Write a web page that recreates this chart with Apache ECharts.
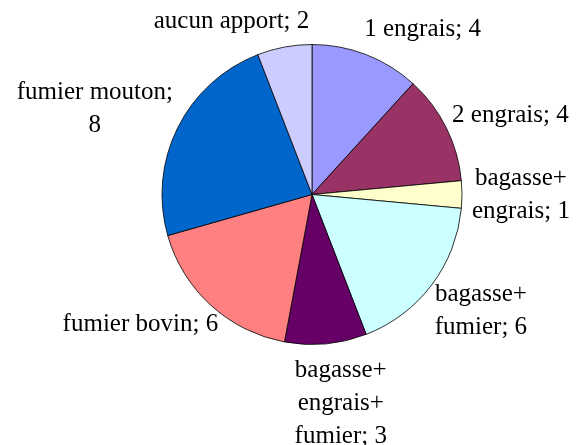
<!DOCTYPE html>
<html>
<head>
<meta charset="utf-8">
<script src="https://cdn.jsdelivr.net/npm/echarts@6/dist/echarts.min.js"></script>
<style>
html, body { margin: 0; padding: 0; background: #fff; }
#chart { width: 578px; height: 445px; }
</style>
</head>
<body>
<div id="chart"></div>
<script>
// données du camembert (ordre horaire depuis le haut)
var categories = ['1 engrais', '2 engrais', 'bagasse+\nengrais', 'bagasse+\nfumier',
                  'bagasse+\nengrais+\nfumier', 'fumier bovin', 'fumier mouton', 'aucun apport'];
var values = [4, 4, 1, 6, 3, 6, 8, 2];
var colors = ['#9999FF', '#993366', '#FFFFCC', '#CCFFFF', '#660066', '#FF8080', '#0066CC', '#CCCCFF'];
var wrapValue = ['fumier mouton']; // valeur renvoyée à la ligne

var cx = 312, cy = 194.5, radius = 150;
var fontSize = 25, lineH = 33;
var font = fontSize + 'px "Liberation Serif"';

function labelText(name, v) {
    return name + ';' + (wrapValue.indexOf(name) >= 0 ? '\n' : ' ') + v;
}

// position des étiquettes façon "extérieur" (boîte collée au bord)
var ctx = document.createElement('canvas').getContext('2d');
ctx.font = font;
var total = values.reduce(function (a, b) { return a + b; }, 0);
var acc = 0, gap = 10;
var boxes = values.map(function (v, i) {
    var mid = (acc + v / 2) / total * 2 * Math.PI;
    acc += v;
    var lines = labelText(categories[i], v).split('\n');
    var w = Math.max.apply(null, lines.map(function (l) { return ctx.measureText(l).width; }));
    var h = lines.length * lineH;
    var s = Math.sin(mid), c = Math.cos(mid);
    var kx = (s < 0 ? -1 : 1) * Math.sqrt(Math.abs(s));
    return { x: cx + (radius + gap) * s + kx * w / 2, y: cy - (radius + gap) * c - c * h / 2, w: w };
});
// écarter les deux étiquettes du haut si elles se chevauchent
var a = boxes[boxes.length - 1], b = boxes[0];
var overlap = (a.x + a.w / 2) - (b.x - b.w / 2) + 55;
if (overlap > 0) { a.x -= overlap / 2; b.x += overlap / 2; }

var chart = echarts.init(document.getElementById('chart'));
var option = {
    animation: false,
    backgroundColor: '#fff',
    series: [{
        type: 'pie',
        center: [cx, cy],
        radius: radius,
        startAngle: 90,
        clockwise: true,
        avoidLabelOverlap: false,
        itemStyle: { borderColor: '#000', borderWidth: 0.8 },
        label: {
            show: true,
            position: 'outside',
            fontFamily: 'Liberation Serif',
            fontSize: fontSize,
            lineHeight: lineH,
            color: '#000',
            formatter: function (p) { return labelText(p.name, p.value); }
        },
        labelLine: { show: false },
        emphasis: { disabled: true },
        labelLayout: function (p) {
            var bx = boxes[p.dataIndex];
            return { x: bx.x, y: bx.y, align: 'center', verticalAlign: 'middle' };
        },
        data: categories.map(function (n, i) {
            return { name: n, value: values[i], itemStyle: { color: colors[i] } };
        })
    }]
};
chart.setOption(option);
</script>
</body>
</html>
